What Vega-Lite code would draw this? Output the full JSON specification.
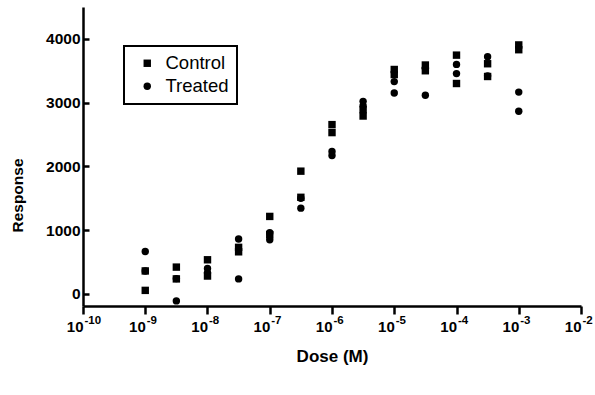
{
  "$schema": "https://vega.github.io/schema/vega-lite/v6.json",
  "autosize": {"type": "none"},
  "padding": {"left": 83, "top": 7, "right": 14, "bottom": 89},
  "width": 498,
  "height": 299,
  "background": "white",
  "config": {
    "view": {"stroke": null},
    "font": "Liberation Sans",
    "legend": {"strokeWidth": 2}
  },
  "data": {
    "values": [
      {"dose": 1e-9, "response": 360, "group": "Control"},
      {"dose": 1e-9, "response": 55, "group": "Control"},
      {"dose": 1e-9, "response": 665, "group": "Treated"},
      {"dose": 1e-9, "response": 360, "group": "Treated"},
      {"dose": 3.16e-9, "response": 420, "group": "Control"},
      {"dose": 3.16e-9, "response": 235, "group": "Control"},
      {"dose": 3.16e-9, "response": -110, "group": "Treated"},
      {"dose": 3.16e-9, "response": 240, "group": "Treated"},
      {"dose": 1e-8, "response": 535, "group": "Control"},
      {"dose": 1e-8, "response": 280, "group": "Control"},
      {"dose": 1e-8, "response": 400, "group": "Treated"},
      {"dose": 1e-8, "response": 330, "group": "Treated"},
      {"dose": 3.16e-8, "response": 730, "group": "Control"},
      {"dose": 3.16e-8, "response": 660, "group": "Control"},
      {"dose": 3.16e-8, "response": 860, "group": "Treated"},
      {"dose": 3.16e-8, "response": 235, "group": "Treated"},
      {"dose": 1e-7, "response": 1215, "group": "Control"},
      {"dose": 1e-7, "response": 930, "group": "Control"},
      {"dose": 1e-7, "response": 960, "group": "Treated"},
      {"dose": 1e-7, "response": 850, "group": "Treated"},
      {"dose": 3.16e-7, "response": 1925, "group": "Control"},
      {"dose": 3.16e-7, "response": 1515, "group": "Control"},
      {"dose": 3.16e-7, "response": 1500, "group": "Treated"},
      {"dose": 3.16e-7, "response": 1345, "group": "Treated"},
      {"dose": 1e-6, "response": 2655, "group": "Control"},
      {"dose": 1e-6, "response": 2530, "group": "Control"},
      {"dose": 1e-6, "response": 2235, "group": "Treated"},
      {"dose": 1e-6, "response": 2170, "group": "Treated"},
      {"dose": 3.16e-6, "response": 2890, "group": "Control"},
      {"dose": 3.16e-6, "response": 2790, "group": "Control"},
      {"dose": 3.16e-6, "response": 3020, "group": "Treated"},
      {"dose": 3.16e-6, "response": 2950, "group": "Treated"},
      {"dose": 1e-5, "response": 3520, "group": "Control"},
      {"dose": 1e-5, "response": 3440, "group": "Control"},
      {"dose": 1e-5, "response": 3330, "group": "Treated"},
      {"dose": 1e-5, "response": 3150, "group": "Treated"},
      {"dose": 3.16e-5, "response": 3590, "group": "Control"},
      {"dose": 3.16e-5, "response": 3500, "group": "Control"},
      {"dose": 3.16e-5, "response": 3540, "group": "Treated"},
      {"dose": 3.16e-5, "response": 3115, "group": "Treated"},
      {"dose": 1e-4, "response": 3745, "group": "Control"},
      {"dose": 1e-4, "response": 3300, "group": "Control"},
      {"dose": 1e-4, "response": 3600, "group": "Treated"},
      {"dose": 1e-4, "response": 3455, "group": "Treated"},
      {"dose": 3.16e-4, "response": 3610, "group": "Control"},
      {"dose": 3.16e-4, "response": 3410, "group": "Control"},
      {"dose": 3.16e-4, "response": 3720, "group": "Treated"},
      {"dose": 3.16e-4, "response": 3420, "group": "Treated"},
      {"dose": 1e-3, "response": 3905, "group": "Control"},
      {"dose": 1e-3, "response": 3830, "group": "Control"},
      {"dose": 1e-3, "response": 3165, "group": "Treated"},
      {"dose": 1e-3, "response": 2865, "group": "Treated"}
    ]
  },
  "resolve": {"axis": {"x": "independent"}},
  "layer": [
    {
      "mark": {"type": "point", "filled": true, "color": "black", "opacity": 1, "size": 55},
      "encoding": {
        "x": {
          "field": "dose",
          "type": "quantitative",
          "scale": {"type": "log", "domain": [1e-10, 1e-2], "nice": false},
          "axis": {
            "orient": "bottom",
            "title": "Dose (M)",
            "values": [1e-10, 1e-9, 1e-8, 1e-7, 1e-6, 1e-5, 1e-4, 1e-3, 1e-2],
            "labelExpr": "'10'",
            "grid": false,
            "domainColor": "black",
            "domainWidth": 2.5,
            "tickColor": "black",
            "tickWidth": 2.5,
            "tickSize": 8,
            "labelFont": "Liberation Sans",
            "labelFontWeight": "bold",
            "labelFontSize": 15,
            "labelColor": "black",
            "labelAlign": "right",
            "labelBaseline": "alphabetic",
            "labelOffset": 0,
            "labelPadding": 17,
            "labelFlush": false,
            "labelOverlap": false,
            "titleFont": "Liberation Sans",
            "titleFontWeight": "bold",
            "titleFontSize": 17,
            "titleColor": "black",
            "titleX": 249,
            "titleY": 55,
            "titleAlign": "center",
            "titleBaseline": "alphabetic"
          }
        },
        "y": {
          "field": "response",
          "type": "quantitative",
          "scale": {"domain": [-190, 4500], "nice": false, "zero": false},
          "axis": {
            "title": "Response",
            "values": [0, 1000, 2000, 3000, 4000],
            "format": "d",
            "grid": false,
            "domainColor": "black",
            "domainWidth": 2.5,
            "tickColor": "black",
            "tickWidth": 2.5,
            "tickSize": -6,
            "labelPadding": 9,
            "labelFont": "Liberation Sans",
            "labelFontWeight": "bold",
            "labelFontSize": 15.5,
            "labelColor": "black",
            "labelFlush": false,
            "labelOverlap": false,
            "titleFont": "Liberation Sans",
            "titleFontWeight": "bold",
            "titleFontSize": 15.5,
            "titleColor": "black",
            "titleAngle": -90,
            "titleX": -61,
            "titleY": 188,
            "titleAlign": "center",
            "titleBaseline": "alphabetic"
          }
        },
        "shape": {
          "field": "group",
          "type": "nominal",
          "scale": {"domain": ["Control", "Treated"], "range": ["square", "circle"]},
          "legend": {
            "title": null,
            "orient": "none",
            "legendX": 41,
            "legendY": 39,
            "strokeColor": "black",
            "padding": 8,
            "rowPadding": 4,
            "symbolOffset": 6,
            "symbolSize": 55,
            "symbolFillColor": "black",
            "symbolStrokeWidth": 0,
            "labelOffset": 9,
            "labelFont": "Liberation Sans",
            "labelFontSize": 18.5,
            "labelColor": "black",
            "labelExpr": "datum.label + '\u00a0\u00a0\u00a0\u00a0\u00a0\u00a0\u00a0'"
          }
        }
      }
    },
    {
      "mark": {"type": "point", "filled": true, "color": "black", "opacity": 0, "size": 55},
      "encoding": {
        "x": {
          "field": "dose",
          "type": "quantitative",
          "axis": {
            "orient": "bottom",
            "title": null,
            "values": [1e-10, 1e-9, 1e-8, 1e-7, 1e-6, 1e-5, 1e-4, 1e-3, 1e-2],
            "labelExpr": "'' + round(log(datum.value) / LN10)",
            "grid": false,
            "domain": false,
            "ticks": true,
            "tickSize": 8,
            "tickOpacity": 0,
            "labelFont": "Liberation Sans",
            "labelFontWeight": "bold",
            "labelFontSize": 11.5,
            "labelColor": "black",
            "labelAlign": "left",
            "labelBaseline": "alphabetic",
            "labelOffset": 1,
            "labelPadding": 9.5,
            "labelFlush": false,
            "labelOverlap": false
          }
        }
      }
    }
  ]
}
